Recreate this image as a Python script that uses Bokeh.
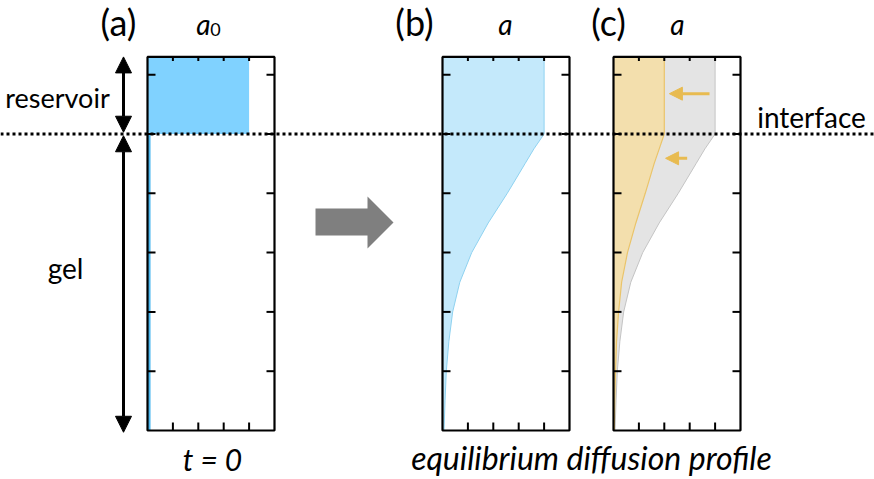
from bokeh.plotting import figure
from bokeh.models import Range1d, Label, Arrow, NormalHead, Span
from bokeh.embed import file_html
from bokeh.resources import INLINE

# ---- data -------------------------------------------------------------
# depth coordinate (gel bottom = 0, interface = 5, reservoir top = 6.3)
depth = [6.3, 5.0, 4.75, 4.5, 4.0, 3.5, 3.0, 2.5, 2.0, 1.5, 1.0, 0.5, 0.0]
# equilibrium concentration profile a(depth)
profile_eq = [4.0, 4.0, 3.6, 3.25, 2.55, 1.8, 1.15, 0.68, 0.4, 0.25, 0.15, 0.1, 0.06]
# reduced profile shown in panel (c)
profile_low = [2.0, 2.0, 1.8, 1.6, 1.25, 0.88, 0.55, 0.32, 0.2, 0.12, 0.08, 0.05, 0.03]
a0 = 4.0                 # initial reservoir concentration
gel_initial = 0.12       # (practically empty) gel at t = 0
interface = 5.0
top = 6.3
x_max = 5.0
x_ticks = [1, 2, 3, 4]
y_ticks = [1, 2, 3, 4, 5, 6]

# ---- layout -----------------------------------------------------------
W, H = 874, 479
PX_X = 25.4              # pixels per concentration unit
PX_Y = 59.3              # pixels per depth unit
BASE = 430               # pixel row of depth 0
panel_left = {"a": 147, "b": 442, "c": 613}

FONT = "Lato"

p = figure(width=W, height=H, x_range=Range1d(0, W), y_range=Range1d(H, 0),
           output_backend="svg", toolbar_location=None, min_border=0,
           x_axis_location=None, y_axis_location=None)
p.outline_line_color = None
p.grid.visible = False
p.background_fill_color = "white"
p.border_fill_color = "white"

p.extra_y_ranges = {"depth": Range1d(-(H - BASE) / PX_Y, BASE / PX_Y)}
p.extra_x_ranges = {k: Range1d(-v / PX_X, (W - v) / PX_X) for k, v in panel_left.items()}


def panel_frame(name):
    kw = dict(x_range_name=name, y_range_name="depth")
    tx, ty = 8 / PX_X, 8 / PX_Y
    p.segment(x0=x_ticks, x1=x_ticks, y0=[0] * 4, y1=[ty] * 4, line_color="black", line_width=2, **kw)
    p.segment(x0=x_ticks, x1=x_ticks, y0=[top] * 4, y1=[top - ty / 2] * 4, line_color="black", line_width=2, **kw)
    p.segment(x0=[x_max] * 6, x1=[x_max - tx] * 6, y0=y_ticks, y1=y_ticks, line_color="black", line_width=2, **kw)
    p.segment(x0=[0] * 6, x1=[tx] * 6, y0=y_ticks, y1=y_ticks, line_color="black", line_width=2, **kw)
    p.quad(left=0, right=x_max, bottom=0, top=top, fill_color=None, line_color="black", line_width=2.2, **kw)


# panel (a): initial state
p.quad(left=0, right=a0, bottom=interface, top=top, fill_color="#80d2ff", line_color=None,
       x_range_name="a", y_range_name="depth")
p.quad(left=0, right=gel_initial, bottom=0, top=interface, fill_color="#4db8ee", line_color=None,
       x_range_name="a", y_range_name="depth")
panel_frame("a")

# panel (b): equilibrium profile
p.harea(x1=0, x2=profile_eq, y=depth, fill_color="#c4e9fb", x_range_name="b", y_range_name="depth")
p.line(x=profile_eq, y=depth, line_color="#8fd2f0", line_width=1, x_range_name="b", y_range_name="depth")
panel_frame("b")

# panel (c): lower profile over the equilibrium one
p.harea(x1=0, x2=profile_eq, y=depth, fill_color="#e4e4e4", x_range_name="c", y_range_name="depth")
p.line(x=profile_eq, y=depth, line_color="#c4c4c4", line_width=1, x_range_name="c", y_range_name="depth")
p.harea(x1=0, x2=profile_low, y=depth, fill_color="#f3dfad", x_range_name="c", y_range_name="depth")
p.line(x=profile_low, y=depth, line_color="#eac46a", line_width=1.2, x_range_name="c", y_range_name="depth")
panel_frame("c")

# shift arrows in panel (c)
for y, xs, xe in [(5.68, 3.78, 2.2), (4.59, 2.9, 2.05)]:
    p.add_layout(Arrow(x_start=xs, x_end=xe, y_start=y, y_end=y, line_color="#e8bb50", line_width=3,
                       end=NormalHead(size=13, fill_color="#e8bb50", line_color="#e8bb50"),
                       x_range_name="c", y_range_name="depth"))

# interface line
p.add_layout(Span(location=interface, dimension="width", y_range_name="depth",
                  line_color="black", line_width=3, line_dash="3 3"))

# reservoir / gel extent arrows
for ys, ye in [(interface + 0.03, top), (interface - 0.03, -0.03)]:
    p.add_layout(Arrow(x_start=123, x_end=123, y_start=ys, y_end=ye, line_color="black", line_width=3,
                       start=NormalHead(size=16, fill_color="black", line_color="black"),
                       end=NormalHead(size=16, fill_color="black", line_color="black"),
                       y_range_name="depth"))

# block arrow between (a) and (b)
p.patch(x=[315, 367, 367, 393, 367, 367, 315], y=[208, 208, 196, 222, 248, 235, 235],
        fill_color="#7f7f7f", line_color=None)


def label(x, y, text, size, style="normal", align="center"):
    p.add_layout(Label(x=x, y=y, text=text, text_font=FONT, text_font_size=size,
                       text_font_style=style, text_align=align, text_baseline="middle",
                       text_color="black"))


label(118, 21, "(a)", "36px")
label(414, 21, "(b)", "36px")
label(608, 21, "(c)", "36px")
label(203, 23, "a", "28px", "italic")
label(215, 29, "0", "18px")
label(505, 23, "a", "28px", "italic")
label(677, 23, "a", "28px", "italic")
label(57, 97, "reservoir", "27px")
label(65, 267, "gel", "28px")
label(811, 116, "interface", "28px")
label(212, 458, "t = 0", "30px", "italic")
label(591, 457, "equilibrium diffusion profile", "32px", "italic")

open("out.html", "w").write(file_html(p, INLINE))
